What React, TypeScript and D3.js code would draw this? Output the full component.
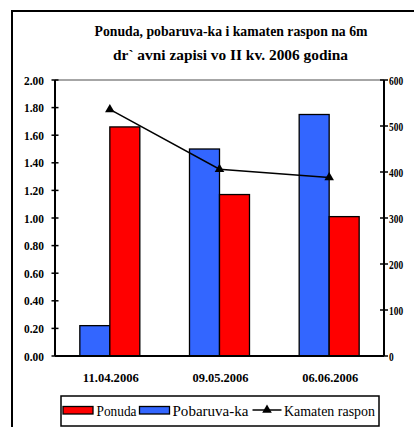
import React from "react";
import * as d3 from "d3";

const categories = ["11.04.2006", "09.05.2006", "06.06.2006"];
const ponuda = [1.66, 1.17, 1.01];
const pobaruvacka = [0.22, 1.5, 1.75];
const kamatenRaspon = [536, 406, 388];
const leftTicks = [0, 0.2, 0.4, 0.6, 0.8, 1.0, 1.2, 1.4, 1.6, 1.8, 2.0];
const rightTicks = [0, 100, 200, 300, 400, 500, 600];
const titleLines = ["Ponuda, pobaruva-ka i kamaten raspon na 6m", "dr` avni zapisi vo II kv. 2006 godina"];
const legendLabels = ["Ponuda", "Pobaruva-ka", "Kamaten raspon"];

const RED = "#FF0000";
const BLUE = "#3366FF";
const FONT = "'Liberation Serif', 'Times New Roman', serif";

export default function App() {
  const W = 414, H = 427;
  const left = 55, right = 384, top = 80, bottom = 356;
  const x = d3.scaleBand<string>().domain(categories).range([left, right]);
  const yL = d3.scaleLinear().domain([0, 2]).range([bottom, top]);
  const yR = d3.scaleLinear().domain([0, 600]).range([bottom, top]);
  const barW = 30;
  const cx = (c: string) => (x(c) as number) + x.bandwidth() / 2;
  const line = d3.line<number>().x((_, i) => cx(categories[i])).y((d) => yR(d));
  const tri = d3.symbol().type(d3.symbolTriangle).size(40)();

  return (
    <svg width={W} height={H} style={{ position: "absolute", left: 0, top: 0, background: "#fff" }}>
      <rect x={0} y={0} width={W} height={H} fill="#fff" />
      {/* frame */}
      <path d={`M12,${H} V11 H${W}`} fill="none" stroke="#000" strokeWidth={2} />
      {/* title */}
      <text x={231} y={36} textAnchor="middle" fontFamily={FONT} fontSize={15} fontWeight={600} textLength={273} lengthAdjust="spacingAndGlyphs">{titleLines[0]}</text>
      <text x={230.5} y={60} textAnchor="middle" fontFamily={FONT} fontSize={15} fontWeight={600} textLength={235} lengthAdjust="spacingAndGlyphs">{titleLines[1]}</text>
      {/* top gridline */}
      <line x1={left} x2={right} y1={top} y2={top} stroke="#888" strokeWidth={1.5} />
      {/* bars */}
      {categories.map((c, i) => (
        <g key={c}>
          <rect x={cx(c) - barW} y={yL(pobaruvacka[i])} width={barW} height={bottom - yL(pobaruvacka[i])} fill={BLUE} stroke="#000" strokeWidth={1.3} />
          <rect x={cx(c)} y={yL(ponuda[i])} width={barW} height={bottom - yL(ponuda[i])} fill={RED} stroke="#000" strokeWidth={1.3} />
        </g>
      ))}
      {/* line */}
      <path d={line(kamatenRaspon) || ""} fill="none" stroke="#000" strokeWidth={1.5} />
      {kamatenRaspon.map((v, i) => (
        <path key={i} d={tri || ""} transform={`translate(${cx(categories[i])},${yR(v)})`} fill="#000" />
      ))}
      {/* axes */}
      <line x1={left} x2={left} y1={top} y2={bottom} stroke="#000" strokeWidth={2} />
      <line x1={right} x2={right} y1={top} y2={bottom} stroke="#000" strokeWidth={2} />
      <line x1={left} x2={right} y1={bottom} y2={bottom} stroke="#000" strokeWidth={2} />
      {leftTicks.map((t) => (
        <g key={"l" + t}>
          <line x1={left - 3.5} x2={left + 3.5} y1={yL(t)} y2={yL(t)} stroke="#000" strokeWidth={1.5} />
          <text x={44} y={yL(t) + 4.5} textAnchor="end" fontFamily={FONT} fontSize={13} fontWeight="bold" textLength={20} lengthAdjust="spacingAndGlyphs">{t.toFixed(2)}</text>
        </g>
      ))}
      {rightTicks.map((t) => (
        <g key={"r" + t}>
          <line x1={right - 4} x2={right + 4} y1={yR(t)} y2={yR(t)} stroke="#000" strokeWidth={1.5} />
          <text x={389} y={yR(t) + 4.5} fontFamily={FONT} fontSize={13} fontWeight="bold" textLength={String(t).length * 4.7} lengthAdjust="spacingAndGlyphs">{t}</text>
        </g>
      ))}
      {categories.map((c) => (
        <text key={c} x={cx(c) + 1} y={382} textAnchor="middle" fontFamily={FONT} fontSize={13} fontWeight="bold" textLength={56} lengthAdjust="spacingAndGlyphs">{c}</text>
      ))}
      {/* legend */}
      <rect x={61} y={396} width={318} height={30} fill="#fff" stroke="#000" strokeWidth={1.5} />
      <rect x={63} y={406.5} width={30} height={7.5} fill={RED} stroke="#000" strokeWidth={1.3} />
      <text x={96.5} y={416} fontFamily={FONT} fontSize={15} textLength={40} lengthAdjust="spacingAndGlyphs">{legendLabels[0]}</text>
      <rect x={139.5} y={406.5} width={30} height={7.5} fill={BLUE} stroke="#000" strokeWidth={1.3} />
      <text x={172.5} y={416} fontFamily={FONT} fontSize={15} textLength={76} lengthAdjust="spacingAndGlyphs">{legendLabels[1]}</text>
      <line x1={252.5} x2={281.5} y1={410} y2={410} stroke="#000" strokeWidth={1.5} />
      <path d={tri || ""} transform="translate(267,410)" fill="#000" />
      <text x={284} y={416} fontFamily={FONT} fontSize={15} textLength={91} lengthAdjust="spacingAndGlyphs">{legendLabels[2]}</text>
    </svg>
  );
}
